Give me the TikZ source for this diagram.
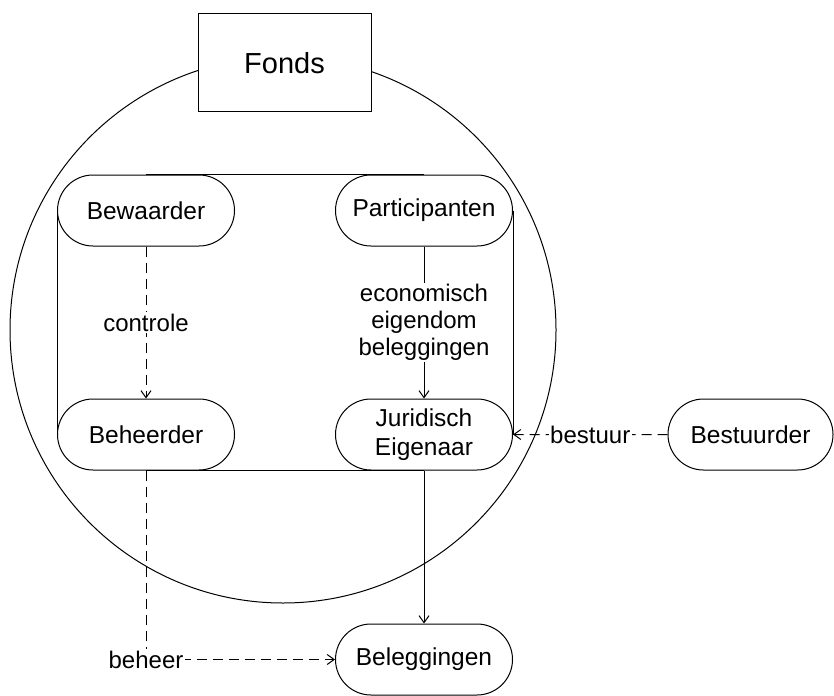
\documentclass[tikz,border=0pt]{standalone}
\usepackage{fontspec}
\setmainfont{Liberation Sans}
\usetikzlibrary{shapes.misc,arrows.meta}
\begin{document}
\begin{tikzpicture}[x=1pt,y=-1pt,
  rr/.style={rounded rectangle, draw, fill=white, line width=1pt, minimum width=177pt, minimum height=71pt, inner sep=0pt, font=\fontsize{24.5}{29}\selectfont, align=center},
  lbl/.style={fill=white, inner sep=1.5pt, font=\fontsize{24}{27}\selectfont, align=center},
  ln/.style={line width=1pt},
  dsh/.style={line width=1pt, dash pattern=on 10pt off 6pt},
  arr/.style={-{Straight Barb[length=7pt,width=10pt]}}]
\useasboundingbox (0,0) rectangle (834,695);
\node[circle, draw, ln, minimum size=546pt, inner sep=0pt] (circ) at (283,330) {};
\node[draw, fill=white, ln, minimum width=173pt, minimum height=98pt, inner sep=0pt, font=\fontsize{29}{32}\selectfont] (fonds) at (284.5,63) {Fonds};
\node[rr] (bewaarder) at (146,210.5) {Bewaarder};
\node[rr] (participanten) at (424,210.5) {Participanten};
\node[rr] (beheerder) at (146,434.5) {Beheerder};
\node[rr] (juridisch) at (424,434.5) {Juridisch\\Eigenaar};
\node[rr, minimum width=165pt] (bestuurder) at (750.5,434.5) {Bestuurder};
\node[rr] (beleggingen) at (424,659.5) {Beleggingen};
% inner frame
\draw[ln] (bewaarder.north) -- (participanten.north);
\draw[ln] (participanten.east) -- (juridisch.east);
\draw[ln] (juridisch.south) -- (beheerder.south);
\draw[ln] (beheerder.west) -- (bewaarder.west);
% connectors
\draw[dsh,arr] (bewaarder) -- node[lbl]{controle} (beheerder);
\draw[ln,arr] (participanten) -- node[lbl]{economisch\\eigendom\\beleggingen} (juridisch);
\draw[dsh,arr] (bestuurder) -- node[lbl]{bestuur} (juridisch);
\draw[ln,arr] (juridisch) -- (beleggingen);
\draw[dsh,arr] (beheerder.south) |- node[lbl,pos=0.5]{beheer} (beleggingen.west);
\end{tikzpicture}
\end{document}
